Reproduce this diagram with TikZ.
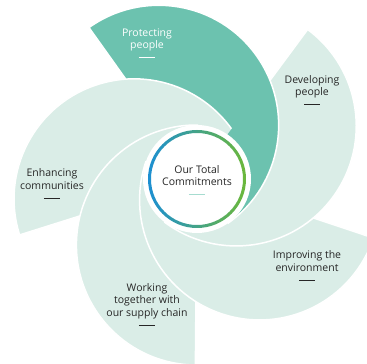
\documentclass[tikz,border=0pt]{standalone}
\usepackage{fontspec}
\setmainfont{Open Sans}
\usetikzlibrary{positioning}
\definecolor{leaf}{HTML}{DAEDE7}
\definecolor{teal}{HTML}{6CC2AF}
\definecolor{ink}{HTML}{262626}
\definecolor{ringblue}{HTML}{1C8FD2}
\definecolor{ringgreen}{HTML}{6CB83A}
\definecolor{softdash}{HTML}{A6DCD0}
\tikzset{
  blade/.style={draw=white,line width=1.5pt},
  tag/.style={align=center,text=ink,inner sep=2pt,text depth=3pt},
  tick/.style={line width=1pt}
}
\begin{document}
\begin{tikzpicture}[x=1pt,y=1pt,font=\fontsize{10.5}{12.5}\selectfont]
  \useasboundingbox (-197,-185) rectangle (170,179);
  % five half-discs, each under its left-hand neighbour
  \foreach \a/\col in {125.5/teal,197.5/leaf,269.5/leaf,341.5/leaf,413.5/leaf}
    \filldraw[blade,fill=\col] (\a:186) arc[start angle=\a,delta angle=-180,radius=120] -- cycle;
  % bring Protecting back over Developing
  \begin{scope}
    \clip (53.5:66) circle (121);
    \clip ([shift={(143.5:2)}]53.5:200) -- ([shift={(143.5:2)}]233.5:60)
      -- ++(-36.5:300) -- ++(53.5:260) -- cycle;
    \filldraw[blade,fill=teal] (125.5:186) arc[start angle=125.5,delta angle=-180,radius=120] -- cycle;
  \end{scope}
  % hub
  \fill[white] (0,0) circle (54);
  \shade[even odd rule,left color=ringblue,right color=ringgreen] (0,0) circle (49) (0,0) circle (46);
  \node[tag] (hub) at (0,2) {Our Total\\Commitments};
  \draw[tick,softdash] ([yshift=-4]hub.south) +(-8,0) -- +(8,0);
  % labels
  \foreach \n/\p/\t/\c in {protect/{-50,139}/{Protecting\\people}/white,
      develop/{115,92}/{Developing\\people}/ink,
      improve/{110,-83.5}/{Improving the\\environment}/ink,
      supply/{-50,-122.5}/{Working\\together with\\our supply chain}/ink,
      enhance/{-145,-1.5}/{Enhancing\\communities}/ink} {
    \node[tag,text=\c] (\n) at (\p) {\t};
    \draw[tick,\c] ([yshift=-4]\n.south) +(-8,0) -- +(8,0);
  }
\end{tikzpicture}
\end{document}
